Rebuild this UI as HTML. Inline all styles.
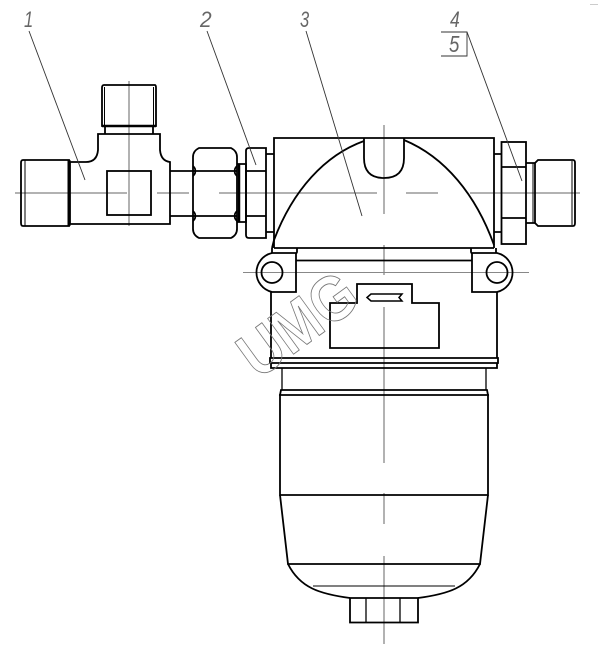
<!DOCTYPE html>
<html>
<head>
<meta charset="utf-8">
<style>
html,body{margin:0;padding:0;background:#fff;width:600px;height:654px;overflow:hidden}
svg{display:block}
.k{fill:none;stroke:#000;stroke-width:1.800}
.c{fill:none;stroke:#666;stroke-width:1}
.l{fill:none;stroke:#333;stroke-width:.9}
.n{font-family:"Liberation Sans",sans-serif;font-style:italic;font-size:22px;fill:#666}
</style>
</head>
<body>
<svg width="600" height="654" viewBox="0 0 600 654" xmlns="http://www.w3.org/2000/svg">
<!-- centre lines -->
<g class="c">
<path d="M15 193H127M157 193H189M219 193H377M406 193H438M470 193H580"/>
<path d="M129 81V226"/>
<path d="M384 125V214M384 245V275M384 307V463M384 493V524M384 556V644"/>
<path d="M243 272.500H529" stroke="#888"/>
</g>

<!-- left tee -->
<g class="k">
<path d="M70 162H86Q97 162 98 150V134H160V150Q161 161 170 162V224H70Z"/>
<rect x="107" y="171" width="44" height="44"/>
<path d="M23 160H69V226H23Q21 226 21 223V163Q21 160 23 160Z"/>
<path d="M69 160V226" stroke-width="3"/>
<path d="M25 160V226" stroke-width="1"/>
<path d="M104 85H155Q156 85 156 88V126H102V88Q102 85 104 85Z"/>
<path d="M102 126H156" stroke-width="2.500"/>
<path d="M105 126V134M153 126V134"/>
<path d="M104.500 87V126M153.500 87V126" stroke-width="1"/>
<path d="M170 171H193M170 216H193"/>
</g>

<!-- union nut -->
<g class="k">
<path d="M199 148H231Q237 151 237 157V229Q237 235 231 238H199Q193 235 193 229V157Q193 151 199 148Z"/>
<path d="M193 171H237M193 216H237"/>
<path d="M193 166Q196 169 195 171Q196 173 193 176M237 166Q234 169 235 171Q234 173 237 176"/>
<path d="M193 211Q196 214 195 216Q196 218 193 221M237 211Q234 214 235 216Q234 218 237 221"/>
<path d="M239 164V222" stroke-width="2.500"/>
<path d="M237 164H246V222H237"/>
<path d="M249 148H266V238H249Q246 238 246 235V151Q246 148 249 148Z"/>
<path d="M246 171H266M246 216H266"/>
<path d="M266 154H274M266 232H274"/>
</g>

<!-- main head -->
<g class="k">
<path d="M274 248V138H494V248"/>
<path d="M274 248H494"/>
<path d="M364 138V158Q364 178 384 178Q404 178 404 158V138"/>
<path d="M364 141C325 155 293 190 274 240L272 248"/>
<path d="M404 140C445 157 476 195 494 245"/>
<path d="M494 154H501M494 232H501"/>
<rect x="501.500" y="142" width="24.500" height="102"/>
<path d="M501 167H526M501 218H526"/>
<path d="M526 163H535M526 223H535"/>
<path d="M535 163L538 160H573Q575 160 575 163V223Q575 226 573 226H538L535 223Z"/>
<path d="M533 163V223" stroke-width="1"/>
<path d="M572 161V225" stroke-width="1"/>
</g>

<!-- bracket / housing -->
<g class="k">
<path d="M297 248V252L296 254V292H272A20 20 0 0 1 272 253H296"/>
<path d="M272 248V253"/>
<circle cx="272" cy="272.500" r="10.500"/>
<path d="M471 248V252L472 254V292H497A20 20 0 0 0 497 253H472"/>
<path d="M496 248V253"/>
<circle cx="497" cy="272.500" r="10.500"/>
<path d="M296 260.500H472"/>
<path d="M271 292V358M497 292V358"/>
<path d="M330 303H357V284H412V303H439V348H330Z"/>
<path d="M367 297.500L371 294H402L399 297.500L402 301H371Z" stroke-width="1.500"/>
<path d="M270 358H498V363H270Z M271 363V368H497V363"/>
<path d="M282 368V390M486 368V390" stroke-width="1.300"/>
</g>

<!-- bottle -->
<g class="k">
<path d="M281 390H487L488 395H280Z"/>
<path d="M280 394V495H488V394"/>
<path d="M280 495L288 564H480L488 495"/>
<path d="M288 564C300 588 320 594 350 598M480 564C468 588 448 594 418 598"/>
<path d="M313 586H455" stroke-width="1"/>
<path d="M350 598H418V622.500H350Z"/>
<path d="M366 598V622M400 598V622" stroke-width="1.300"/>
</g>

<!-- leaders -->
<g class="l">
<path d="M29 31L85 180"/>
<path d="M207 31L256 165"/>
<path d="M306 31L362 216"/>
<path d="M441 32H467L522 181"/>
<path d="M467 32V56H441"/>
</g>
<path d="M590 4.500H598" stroke="#ccc" stroke-width="1"/>

<!-- labels -->
<g class="n">
<text transform="translate(24 27) scale(.75 1)">1</text>
<text transform="translate(200 27) scale(.95 1)">2</text>
<text transform="translate(300 27) scale(.75 1)">3</text>
<text transform="translate(450 27) scale(.8 1)">4</text>
<text transform="translate(449 52) scale(.85 1.050)">5</text>
</g>

<!-- watermark -->
<text transform="translate(258 380) rotate(-36) scale(.87 1)" font-family="Liberation Sans, sans-serif" font-size="64" font-weight="700" fill="none" stroke="#777" stroke-width="0.900">UMG</text>
</svg>
</body>
</html>
